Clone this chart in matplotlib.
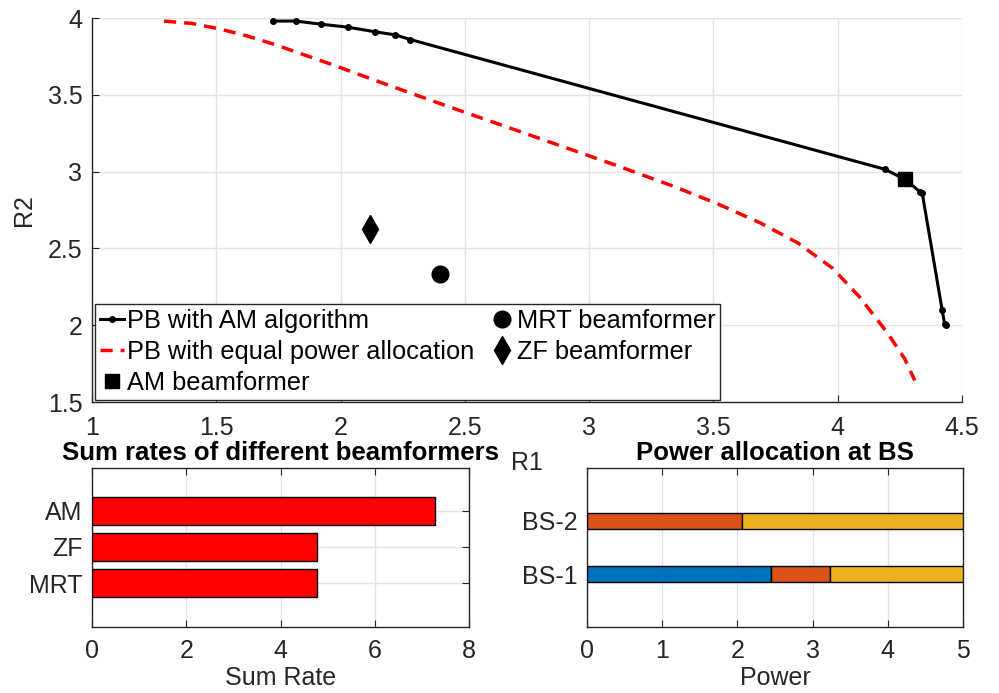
import matplotlib
matplotlib.use("Agg")
import matplotlib.pyplot as plt

plt.rcParams['font.family'] = ['Liberation Sans', 'DejaVu Sans']
plt.rcParams['font.size'] = 18

# Rate region (R1, R2)
am_r1 = [1.73, 1.82, 1.92, 2.03, 2.14, 2.22, 2.28, 4.19, 4.27, 4.33, 4.34, 4.42, 4.43, 4.435]
am_r2 = [3.98, 3.98, 3.96, 3.94, 3.91, 3.89, 3.86, 3.015, 2.95, 2.87, 2.86, 2.10, 2.01, 2.00]

eq_r1 = [1.29, 1.40, 1.51, 1.62, 1.73, 1.96, 2.18, 2.44, 2.67, 2.89, 3.11, 3.33,
         3.51, 3.69, 3.84, 3.98, 4.09, 4.20, 4.27, 4.31]
eq_r2 = [3.98, 3.965, 3.93, 3.885, 3.83, 3.70, 3.57, 3.42, 3.29, 3.165, 3.04, 2.91,
         2.795, 2.665, 2.535, 2.37, 2.18, 1.95, 1.78, 1.64]

am_pt = (4.27, 2.95)
mrt_pt = (2.40, 2.335)
zf_pt = (2.12, 2.625)

# Sum rates
bf_names = ['MRT', 'ZF', 'AM']
sum_rates = [4.78, 4.78, 7.27]

# Power allocation
bs_names = ['BS-1', 'BS-2']
pow1 = [2.45, 0.0]
pow2 = [0.78, 2.06]
pow3 = [1.77, 2.94]

axc = '#262626'
gridc = '#e3e3e3'

fig = plt.figure(figsize=(9.99, 6.93), dpi=100)
ax = fig.add_axes([92/999, 291/693, 870/999, 384/693])
axl = fig.add_axes([92/999, 66/693, 377/999, 159/693])
axr = fig.add_axes([587/999, 66/693, 376/999, 159/693])

# top panel
ax.plot(am_r1, am_r2, '-', color='k', lw=2.2, marker='.', ms=8,
        label='PB with AM algorithm')
ax.plot(eq_r1, eq_r2, '--', color='r', lw=2.5, dashes=(3.5, 2.3),
        label='PB with equal power allocation')
ax.plot(*am_pt, 's', color='k', ms=10, label='AM beamformer')
ax.plot(*mrt_pt, 'o', color='k', ms=12, label='MRT beamformer')
ax.plot(*zf_pt, 'd', color='k', ms=14, label='ZF beamformer')
ax.set_xlim(1, 4.5)
ax.set_ylim(1.5, 4)
ax.set_xticks([1, 1.5, 2, 2.5, 3, 3.5, 4, 4.5])
ax.set_xticklabels(['1', '1.5', '2', '2.5', '3', '3.5', '4', '4.5'])
ax.set_yticks([1.5, 2, 2.5, 3, 3.5, 4])
ax.set_yticklabels(['1.5', '2', '2.5', '3', '3.5', '4'])
ax.spines['top'].set_visible(False)
ax.spines['right'].set_visible(False)
ax.set_ylabel('R2', color=axc, labelpad=8.5)
ax.set_xlabel('R1', color=axc, labelpad=8)
leg = ax.legend(ncol=2, loc='lower left', bbox_to_anchor=(0.003, 0.006),
                borderaxespad=0, fontsize=18.3, handlelength=0.97,
                handletextpad=0.1, labelspacing=0.27, columnspacing=0.6,
                borderpad=0.2, fancybox=False, framealpha=1)
leg.get_frame().set_edgecolor(axc)
leg.get_frame().set_linewidth(1.0)

# bottom-left
yl = [1, 2, 3]
axl.barh(yl, sum_rates, height=0.78, color='r', edgecolor='k', lw=1, zorder=3)
axl.set_yticks(yl)
axl.set_yticklabels(bf_names)
axl.set_xlim(0, 8)
axl.set_ylim(-0.22, 4.19)
axl.set_xticks([0, 2, 4, 6, 8])
axl.set_xlabel('Sum Rate', color=axc, labelpad=2)
axl.set_title('Sum rates of different beamformers', fontweight='bold',
              fontsize=18.5, pad=6)

# bottom-right
yb = [1, 2]
axr.barh(yb, pow1, height=0.31, color='#0072BD', edgecolor='k', lw=1, zorder=3)
axr.barh(yb, pow2, left=pow1, height=0.31, color='#D95319', edgecolor='k', lw=1, zorder=3)
left3 = [a + b for a, b in zip(pow1, pow2)]
axr.barh(yb, pow3, left=left3, height=0.31, color='#EDB120', edgecolor='k', lw=1, zorder=3)
axr.set_yticks(yb)
axr.set_yticklabels(bs_names)
axr.set_xlim(0, 5)
axr.set_ylim(0, 3)
axr.set_xticks([0, 1, 2, 3, 4, 5])
axr.set_xlabel('Power', color=axc, labelpad=2)
axr.set_title('Power allocation at BS', fontweight='bold', fontsize=18.5, pad=6)

for a in (ax, axl, axr):
    a.grid(True, color=gridc, lw=1)
    a.set_axisbelow(True)
    for s in a.spines.values():
        s.set_color(axc)
        s.set_linewidth(1.0)
    a.tick_params(direction='in', length=5, colors=axc, labelcolor=axc)
    a.tick_params(axis='x', pad=10)
    a.tick_params(axis='y', pad=7)
for a in (axl, axr):
    a.tick_params(top=True, right=True)
    a.tick_params(axis='x', pad=8.5)

fig.savefig('out.png', dpi=100)
